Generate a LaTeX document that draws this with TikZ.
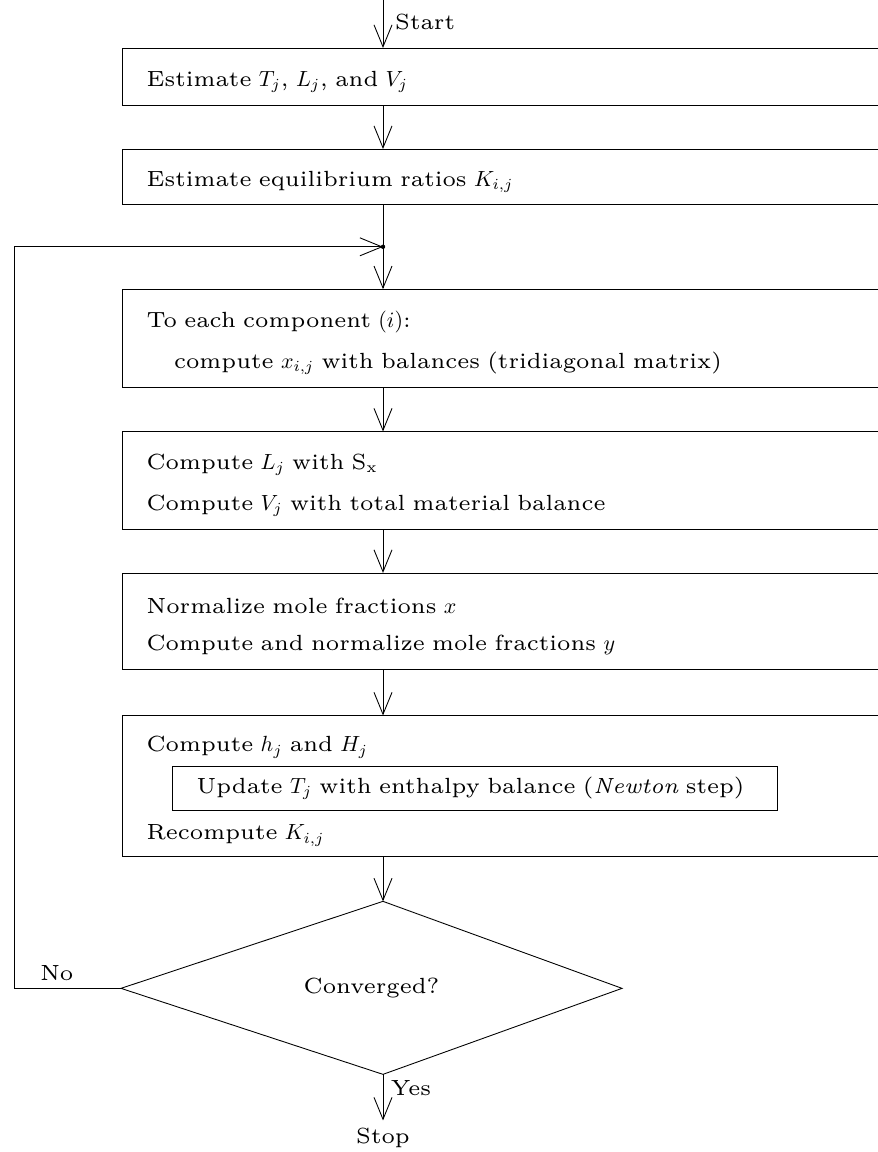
\documentclass[tikz,border=0pt]{standalone}
\usepackage{amsmath,amssymb}
\usepackage{fontspec}
\setmainfont{lmroman6-regular.otf}[ItalicFont=lmroman7-italic.otf, BoldFont=lmroman6-bold.otf]
\usepackage{tikz}
\usetikzlibrary{arrows.meta, positioning}

\begin{document}
\begin{tikzpicture}[
    x=0.4553pt, y=-0.4553pt,
    block/.style={rectangle, draw, text width=359pt, align=left, inner xsep=11pt, anchor=north west,
        execute at begin node={\rule{0pt}{11.5pt}}},
    subblock/.style={rectangle, draw, text width=253.5pt, align=left, inner xsep=11pt, minimum height=20pt},
    line/.style={draw, -{Straight Barb[length=10pt, width=8.2pt]}},
    link/.style={draw}
]
\useasboundingbox (0,0) rectangle (877,1152);

\coordinate (top) at (383,0);
\coordinate (back) at (14,0);

\node [block, minimum height=26pt] (box1) at (122,48) {Estimate $T_j$, $L_j$, and $V_j$};
\node [block, minimum height=25pt, below=19.6pt of box1.south west, anchor=north west] (box2) {Estimate equilibrium ratios $K_{i,j}$};
\node [block, minimum height=44.6pt, below=38.4pt of box2.south west, anchor=north west] (box3) {To each component $(i)$:\\[6.5pt]\hspace*{12.5pt}compute $x_{i,j}$ with balances (tridiagonal matrix)};
\node [block, minimum height=44.2pt, below=19.8pt of box3.south west, anchor=north west] (box4) {Compute $L_j$ with $\mathrm{S_x}$\\[6.5pt]Compute $V_j$ with total material balance};
\node [block, minimum height=43.7pt, below=19.8pt of box4.south west, anchor=north west] (box5) {Normalize mole fractions $x$\\[5pt]Compute and normalize mole fractions $y$};
\node [block, minimum height=64.2pt, below=20.8pt of box5.south west, anchor=north west] (box6) {Compute $h_j$ and $H_j$\\[28pt]Recompute $K_{i,j}$};
\node [subblock, right=22.8pt of box6.west, yshift=-1pt] (update) {Update $T_j$ with enthalpy balance (\textit{Newton} step)};

% decision
\path (box6.south -| top) ++(0,44) coordinate (dtop);
\path (dtop) ++(-262,87) coordinate (dleft) ++(501,0) coordinate (dright);
\path (dtop) ++(0,173) coordinate (dbot);
\draw (dtop) -- (dright) -- (dbot) -- (dleft) -- cycle;
\path (dleft) -- node (conv) {Converged?} (dright);
\node [below=21pt of dbot] (stop) {Stop};

\path (box2.south -| top) ++(0,42) coordinate (junc);

\path [line] (top) -- node[right, xshift=2pt, pos=0.45] {Start} (box1.north -| top);
\path [line] (box1.south -| top) -- (box2.north -| top);
\path [link] (box2.south -| top) -- (junc);
\path [line] (junc) -- (box3.north -| top);
\path [line] (box3.south -| top) -- (box4.north -| top);
\path [line] (box4.south -| top) -- (box5.north -| top);
\path [line] (box5.south -| top) -- (box6.north -| top);
\path [line] (box6.south -| top) -- (dtop);
\path [line] (dbot) -- node[right, pos=0.3] {Yes} (stop);
\path [line] (dleft) -- node[above, pos=0.6] {No} (dleft -| back) |- (junc);
\fill (junc) circle (1pt);

\end{tikzpicture}
\end{document}
